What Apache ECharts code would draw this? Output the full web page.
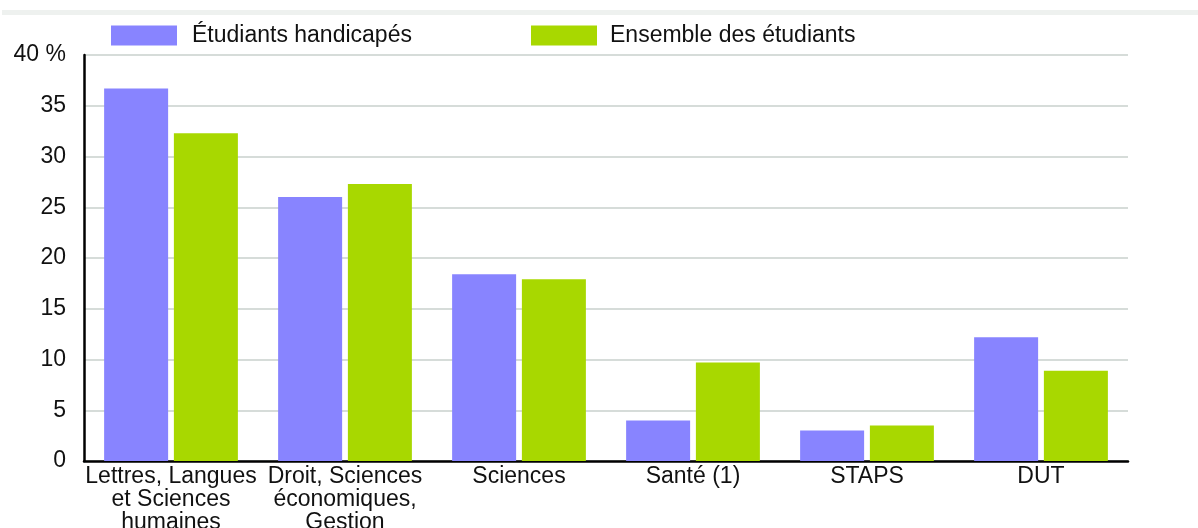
<!DOCTYPE html>
<html>
<head>
<meta charset="utf-8">
<script src="https://cdn.jsdelivr.net/npm/echarts@6/dist/echarts.min.js"></script>
<style>
  html, body { margin: 0; padding: 0; background: #fff; }
  #chart { width: 1198px; height: 528px; }
</style>
</head>
<body>
<div id="chart"></div>
<script>
const categories = [
  "Lettres, Langues\net Sciences\nhumaines",
  "Droit, Sciences\néconomiques,\nGestion",
  "Sciences",
  "Santé (1)",
  "STAPS",
  "DUT",
];
const handicapes = [36.7, 26.0, 18.4, 4.0, 3.0, 12.2];
const ensemble = [32.3, 27.3, 17.9, 9.7, 3.5, 8.9];
const yTicks = { min: 0, max: 40, interval: 5 };

const font = "'Liberation Sans', Arial, sans-serif";
const chart = echarts.init(document.getElementById("chart"));

chart.setOption({
  animation: false,
  graphic: [
    {
      type: "rect",
      shape: { x: 2, y: 10, width: 1196, height: 5 },
      style: { fill: "#eef1ef" },
    },
  ],
  legend: [
    {
      data: ["Étudiants handicapés"],
      left: 106,
      top: 19,
      icon: "rect",
      itemWidth: 66,
      itemHeight: 20,
      textStyle: { fontFamily: font, fontSize: 23, color: "#111", padding: [0, 0, 0, 10] },
    },
    {
      data: ["Ensemble des étudiants"],
      left: 526,
      top: 19,
      icon: "rect",
      itemWidth: 66,
      itemHeight: 20,
      textStyle: { fontFamily: font, fontSize: 23, color: "#111", padding: [0, 0, 0, 8] },
    },
  ],
  grid: { left: 84, right: 70, top: 55, bottom: 67, outerBoundsMode: "none" },
  xAxis: {
    type: "category",
    data: categories,
    axisLine: { lineStyle: { color: "#000", width: 2.5 } },
    axisTick: { show: false },
    axisLabel: {
      interval: 0,
      margin: 4,
      fontFamily: font,
      fontSize: 23,
      lineHeight: 23,
      color: "#111",
      verticalAlign: "top",
    },
  },
  yAxis: {
    type: "value",
    min: yTicks.min,
    max: yTicks.max,
    interval: yTicks.interval,
    axisLine: { show: true, lineStyle: { color: "#000", width: 2.5 } },
    axisTick: { show: false },
    axisLabel: {
      margin: 18,
      fontFamily: font,
      fontSize: 23,
      color: "#111",
      padding: [5, 0, 0, 0],
      formatter: (v) => (v === 40 ? "40 %" : String(v)),
    },
    splitLine: { lineStyle: { color: "#c9d1cd", width: 1.5 } },
  },
  series: [
    {
      name: "Étudiants handicapés",
      type: "bar",
      data: handicapes,
      barWidth: 64,
      barGap: "9%",
      itemStyle: { color: "#8884ff" },
    },
    {
      name: "Ensemble des étudiants",
      type: "bar",
      data: ensemble,
      barWidth: 64,
      itemStyle: { color: "#a8d800" },
    },
  ],
});
</script>
</body>
</html>
